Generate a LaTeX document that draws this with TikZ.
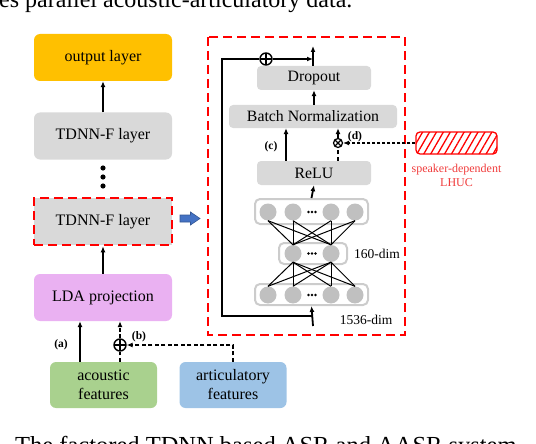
\documentclass[tikz,border=0pt]{standalone}
\usepackage{fontspec}
\setmainfont{Liberation Serif}
\usepackage{xcolor}
\usetikzlibrary{arrows.meta}
\usetikzlibrary{positioning}
\usetikzlibrary{calc}
\usetikzlibrary{patterns.meta}
\definecolor{outorange}{HTML}{FFC000}
\definecolor{boxgray}{HTML}{D9D9D9}
\definecolor{ldaviolet}{HTML}{EAB1F2}
\definecolor{acgreen}{HTML}{A9D18E}
\definecolor{artblue}{HTML}{9DC3E6}
\definecolor{unitgray}{HTML}{C0C0C0}
\definecolor{layergray}{HTML}{CCCCCC}
\definecolor{zoomblue}{HTML}{4472C4}
\definecolor{lhucred}{HTML}{F03C3C}

\begin{document}
\begin{tikzpicture}[x=1pt,y=-1pt,>={Latex[length=6pt,width=5pt]},
	layer/.style={rounded corners=6pt, minimum width=138pt, minimum height=47pt, inner sep=0pt, font=\fontsize{16}{18}\selectfont},
	feat/.style={rounded corners=6pt, minimum width=107pt, minimum height=46pt, inner sep=0pt, align=center, font=\fontsize{16}{19}\selectfont},
	sub/.style={rounded corners=4pt, fill=boxgray, minimum height=24pt, inner sep=0pt, font=\fontsize{15.8}{18}\selectfont},
	unitrow/.style={draw=layergray, line width=2pt, rounded corners=5pt, fill=white, inner sep=0pt},
	unit/.style={circle, fill=unitgray, minimum size=17pt, inner sep=0pt},
	reddash/.style={draw=red, line width=2.6pt, dash pattern=on 9pt off 5pt},
	flow/.style={->, line width=1.8pt},
	side/.style={->, line width=1.5pt, dash pattern=on 4pt off 2.5pt},
	tag/.style={font=\fontsize{11.5}{13}\selectfont\bfseries, inner sep=0pt},
	dimtag/.style={font=\fontsize{13.5}{15}\selectfont, inner sep=0pt},
	plusop/.style={circle, draw, line width=1.4pt, minimum size=12pt, inner sep=0pt,
		path picture={\draw[line width=1.4pt] (path picture bounding box.north) -- (path picture bounding box.south)
			(path picture bounding box.west) -- (path picture bounding box.east);}},
	timesop/.style={circle, draw, line width=1.2pt, minimum size=9pt, inner sep=0pt,
		path picture={\draw[line width=1.2pt] (path picture bounding box.north west) -- (path picture bounding box.south east)
			(path picture bounding box.south west) -- (path picture bounding box.north east);}}]
		\useasboundingbox (0,0) rectangle (536,444);
		\clip (0,0) rectangle (536,444);
		
		%caption pieces
		\node[anchor=base west, inner sep=0pt, font=\fontsize{24}{28}\selectfont] (capTop) at (-1,7.5) {es parallel acoustic-articulatory data.};
		\node[anchor=base west, inner sep=0pt, font=\fontsize{24.5}{28}\selectfont] (capBot) at (15,453) {The factored TDNN based ASR and AASR system};
		
		%coordinates
		\coordinate (inp)  at (313,326);
		\coordinate (res)  at (222,316);
		\coordinate (outp) at (313,46);
		
		%left column
		\node[layer, fill=outorange] (out) at (103,57.5) {output layer};
		\node[layer, fill=boxgray] (tdnnA) at (103,136) {TDNN-F layer};
		\node[layer, fill=boxgray, rounded corners=0pt, reddash] (tdnnB) at (103,221.5) {TDNN-F layer};
		\node[layer, fill=ldaviolet] (lda) at (103,297.5) {LDA projection};
		\node[feat, fill=acgreen] (acoustic) at (103.5,385) {acoustic\\features};
		\node[feat, fill=artblue] (artic) at (233,385) {articulatory\\features};
		\node[plusop] (addB) at (120,345) {};
		\node[tag] (tagA) at (61,345) {(a)};
		\node[tag] (tagB) at (139,337) {(b)};
		
		\fill (103,168) circle (2.6pt);
		\fill (103,177) circle (2.6pt);
		\fill (103,186) circle (2.6pt);
		
		\draw[flow] (tdnnA.north) -- (out.south);
		\draw[flow] (lda.north) -- (tdnnB.south);
		\draw[flow] ([xshift=-23.5pt]acoustic.north) -- ([xshift=-23.5pt]acoustic.north |- lda.south);
		\draw[side, -] (acoustic.north -| addB) -- (addB.south);
		\draw[side] (addB.north) -- (addB |- lda.south);
		\draw[side] (artic.north) |- (addB.east);
		
		%zoom arrow
		\filldraw[fill=zoomblue, draw=zoomblue!75!black, line width=0.6pt] (180,215) -- (190.5,215) -- (190.5,212) -- (200,218.5)
			-- (190.5,225) -- (190.5,222) -- (180,222) -- cycle;
		
		%right panel
		\draw[reddash] (208,37) rectangle (405,335);
		\node[sub, minimum width=114pt] (drop) at (314,78) {Dropout};
		\node[sub, minimum width=168pt, minimum height=23pt] (bn) at (313,116.5) {Batch Normalization};
		\node[sub, minimum width=114pt] (relu) at (314,173) {ReLU};
		
		\node[unitrow, minimum width=113pt, minimum height=25pt] (rowA) at (311.5,211.5) {};
		\node[unitrow, minimum width=68pt, minimum height=21pt] (rowB) at (313,253.5) {};
		\node[unitrow, minimum width=113pt, minimum height=21pt] (rowC) at (311.5,294.5) {};
		
		\node[unit] (a1) at (268,212) {};
		\node[unit] (a2) at (293,212) {};
		\node[unit] (a3) at (331,212) {};
		\node[unit] (a4) at (355,212) {};
		\node[unit] (b1) at (293,253.5) {};
		\node[unit] (b2) at (331,253.5) {};
		\node[unit] (c1) at (268,295) {};
		\node[unit] (c2) at (293,295) {};
		\node[unit] (c3) at (331,295) {};
		\node[unit] (c4) at (355,295) {};
		\foreach \y in {212,253.5,295} {
			\fill (308.5,\y) circle (1.3pt) (312,\y) circle (1.3pt) (315.5,\y) circle (1.3pt);
		}
		
		\foreach \u in {a1,a2,a3,a4}
			\foreach \m in {b1,b2} {
				\draw[line width=1pt] (\u.south) -- (\m.north);
			}
		\foreach \u in {c1,c2,c3,c4}
			\foreach \m in {b1,b2} {
				\draw[line width=1pt] (\m.south) -- (\u.north);
			}
		
		\node[dimtag, right=6pt of rowB] (dimMid) {160-dim};
		\node[dimtag] (dimIn) at (366,320) {1536-dim};
		
		\node[plusop] (addC) at (266,59) {};
		\node[timesop] (mulD) at (338,143) {};
		\node[tag] (tagC) at (271,147) {(c)};
		\node[tag] (tagD) at (355,137) {(d)};
		
		\draw[flow] (inp) -- (rowC.south);
		\draw[flow] (rowA.north) -- (relu.south);
		\draw[flow] ([xshift=-28pt]relu.north) -- ([xshift=-28pt]relu.north |- bn.south);
		\draw[side, -] (relu.north -| mulD) -- (mulD.south);
		\draw[side] (mulD.north) -- (mulD |- bn.south);
		\draw[flow] (bn.north -| drop) -- (drop.south);
		\draw[flow] (drop.north -| outp) -- (outp);
		\draw[line width=1.8pt] (inp |- res) -- (res) |- (addC.west);
		\draw[flow] (addC.east) -- (outp |- addC);
		
		%speaker dependent part
		\node[draw=red, line width=1.3pt, rounded corners=4pt, minimum width=81pt, minimum height=22pt,
			pattern={Lines[angle=60,distance=6pt,line width=1.3pt]}, pattern color=red] (lhuc) at (456.5,143) {};
		\node[below=9pt of lhuc, inner sep=0pt, align=center, text=lhucred, font=\fontsize{12}{14}\selectfont] (lhucText) {speaker-dependent\\LHUC};
		\draw[->, line width=1.1pt, dash pattern=on 3pt off 2pt] (lhuc.west) -- (mulD.east);
\end{tikzpicture}
\end{document}
